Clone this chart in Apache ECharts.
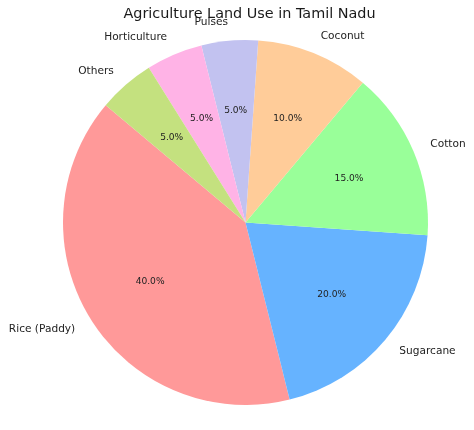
<!DOCTYPE html>
<html>
<head>
<meta charset="utf-8">
<script src="https://cdn.jsdelivr.net/npm/echarts@6/dist/echarts.min.js"></script>
<style>html,body{margin:0;padding:0;background:#fff;}#c{width:474px;height:430px;}</style>
</head>
<body>
<div id="c"></div>
<script>
const categories = ['Rice (Paddy)', 'Sugarcane', 'Cotton', 'Coconut', 'Pulses', 'Horticulture', 'Others'];
const values = [40, 20, 15, 10, 5, 5, 5];
const colors = ['#ff9999', '#66b3ff', '#99ff99', '#ffcc99', '#c2c2f0', '#ffb3e6', '#c4e17f'];
const titleText = 'Agriculture Land Use in Tamil Nadu';

const R = 182.5;
const center = [245.5, 222.5];
const total = values.reduce((a, b) => a + b, 0);
const font = 'DejaVu Sans';

const chart = echarts.init(document.getElementById('c'), null, {renderer: 'canvas'});
chart.setOption({
  animation: false,
  backgroundColor: '#ffffff',
  title: {
    text: titleText,
    left: 244.5,
    textAlign: 'center',
    top: 2,
    textStyle: {fontFamily: font, fontSize: 14.4, fontWeight: 'normal', color: '#1a1a1a'}
  },
  series: [
    {
      type: 'pie',
      center: center,
      radius: [0, R],
      startAngle: 140,
      clockwise: false,
      avoidLabelOverlap: false,
      silent: true,
      data: categories.map((n, i) => ({name: n, value: values[i], itemStyle: {color: colors[i]}})),
      label: {
        show: true,
        position: 'outside',
        formatter: '{b}',
        fontFamily: font,
        fontSize: 10.6,
        color: '#222222',
        distanceToLabelLine: 0
      },
      labelLine: {show: false, length: R * 0.1, length2: 0},
      itemStyle: {borderWidth: 0}
    },
    {
      type: 'pie',
      center: center,
      radius: [R * 0.2, R],
      startAngle: 140,
      clockwise: false,
      avoidLabelOverlap: false,
      silent: true,
      z: 3,
      data: categories.map((n, i) => ({name: n, value: values[i]})),
      itemStyle: {color: 'rgba(0,0,0,0)', borderWidth: 0},
      label: {
        show: true,
        position: 'inside',
        formatter: (p) => (p.value / total * 100).toFixed(1) + '%',
        fontFamily: font,
        fontSize: 9.1,
        color: '#222222'
      },
      labelLine: {show: false}
    }
  ]
});
</script>
</body>
</html>
